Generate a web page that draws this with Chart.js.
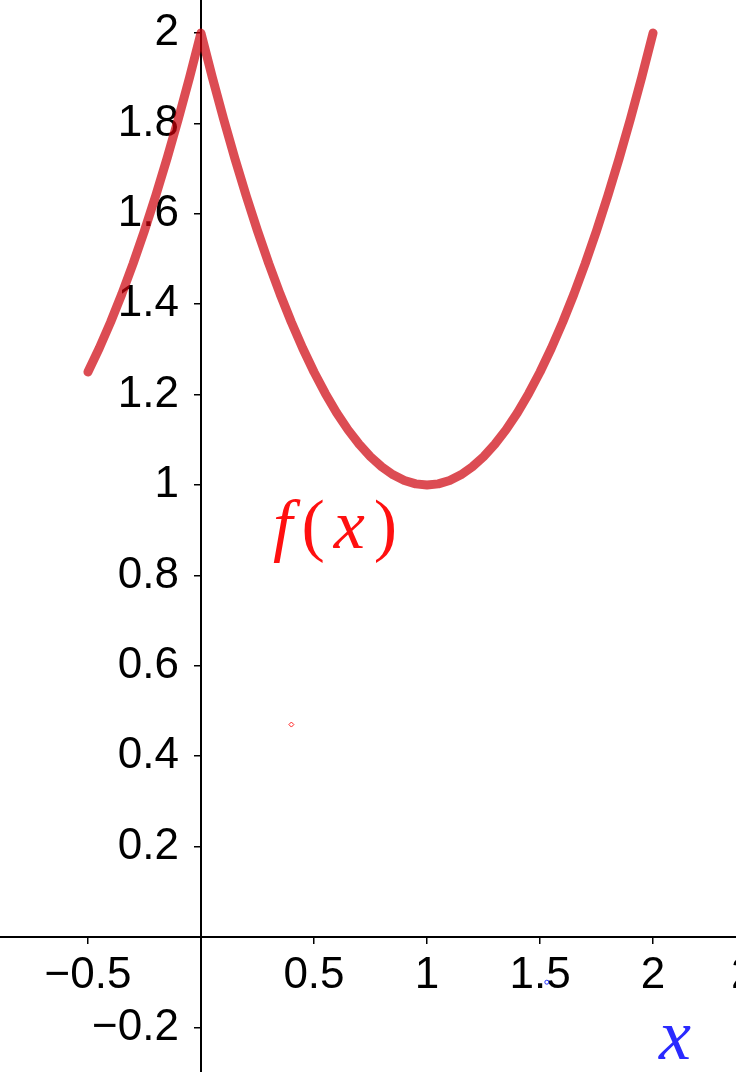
<!DOCTYPE html>
<html>
<head>
<meta charset="utf-8">
<script src="https://cdn.jsdelivr.net/npm/chart.js@4/dist/chart.umd.min.js"></script>
<style>
  html, body { margin: 0; padding: 0; overflow: hidden; background: #fff; width: 736px; height: 1072px; }
  #wrap { position: relative; width: 800px; height: 1072px; }
  #c { position: absolute; left: 0; top: 0; }
  .lbl { position: absolute; font-family: "Liberation Serif", "DejaVu Serif", serif; white-space: nowrap; line-height: 1; }
  .it { font-style: italic; }
</style>
</head>
<body>
<div id="wrap">
  <canvas id="c" width="800" height="1072"></canvas>
  <div class="lbl" id="fx" style="left:273px; top:490px; font-size:70px; color:#ff1010; letter-spacing:9px;"><span class="it">f</span>(<span class="it">x</span>)</div>
  <div class="lbl it" id="xl" style="left:659px; top:999px; font-size:72px; color:#2a2aff;">x</div>
</div>
<script>
// Curve f(x)
const curveX = [-0.5,-0.45,-0.4,-0.35,-0.3,-0.25,-0.2,-0.15,-0.1,-0.05,0,
  0.05,0.1,0.15,0.2,0.25,0.3,0.35,0.4,0.45,0.5,0.55,0.6,0.65,0.7,0.75,0.8,0.85,0.9,0.95,1,
  1.05,1.1,1.15,1.2,1.25,1.3,1.35,1.4,1.45,1.5,1.55,1.6,1.65,1.7,1.75,1.8,1.85,1.9,1.95,2];
const curveY = [1.25,1.3025,1.36,1.4225,1.49,1.5625,1.64,1.7225,1.81,1.9025,2.0,
  1.9025,1.81,1.7225,1.64,1.5625,1.49,1.4225,1.36,1.3025,1.25,1.2025,1.16,1.1225,1.09,1.0625,1.04,1.0225,1.01,1.0025,1.0,
  1.0025,1.01,1.0225,1.04,1.0625,1.09,1.1225,1.16,1.2025,1.25,1.3025,1.36,1.4225,1.49,1.5625,1.64,1.7225,1.81,1.9025,2.0];
// small stray markers
const redMarkX = [0.40];
const redMarkY = [0.47];
const blueMarkX = [1.53];
const blueMarkY = [-0.10];
// axis ranges / ticks
const xRange = [-0.889, 2.650];
const yRange = [-0.2987, 2.073];
const xStep = 0.5;
const yStep = 0.2;

function pts(xs, ys) { return xs.map((x, i) => ({x: x, y: ys[i]})); }
function fmt(v) {
  const r = Math.round(v * 10) / 10;
  if (r === 0) return '';
  const s = String(Math.abs(r));
  return (r < 0 ? '\u2212' : '') + s;
}
function fmtX(v) {
  const s = fmt(v);
  // the last label is cut by the right edge; keep it slightly wider like the reference
  return (Math.round(v * 10) === 25) ? s + '\u2009' : s;
}
function fmtY(v) {
  const s = fmt(v);
  return s ? s + '\u2002' : '';
}
function noPad(scale) {
  scale.paddingTop = 0; scale.paddingBottom = 0;
  scale.paddingLeft = 0; scale.paddingRight = 0;
}

const tickFont = { family: '"Liberation Sans", Arial, sans-serif', size: 44 };

new Chart(document.getElementById('c'), {
  type: 'scatter',
  data: {
    datasets: [
      {
        data: pts(curveX, curveY),
        showLine: true,
        borderColor: 'rgba(205,0,10,0.7)',
        borderWidth: 9,
        borderCapStyle: 'round',
        borderJoinStyle: 'round',
        pointRadius: 0,
        pointHoverRadius: 0,
        tension: 0
      },
      {
        data: pts(redMarkX, redMarkY),
        pointStyle: 'rectRot',
        pointRadius: 2.5,
        borderColor: '#ff2020',
        backgroundColor: 'rgba(255,255,255,0)',
        borderWidth: 1
      },
      {
        data: pts(blueMarkX, blueMarkY),
        pointStyle: 'circle',
        pointRadius: 2,
        borderColor: '#2030ff',
        backgroundColor: 'rgba(255,255,255,0)',
        borderWidth: 1
      }
    ]
  },
  options: {
    responsive: false,
    animation: false,
    events: [],
    layout: { padding: 0, autoPadding: false },
    plugins: { legend: { display: false }, tooltip: { enabled: false } },
    scales: {
      x: {
        type: 'linear',
        min: xRange[0], max: xRange[1],
        position: { y: 0 },
        afterFit: noPad,
        border: { display: true, color: '#000', width: 2 },
        grid: { drawOnChartArea: false, drawTicks: true, tickLength: 6, color: '#000', lineWidth: 1.5 },
        ticks: { stepSize: xStep, includeBounds: false, color: '#000', font: tickFont, padding: 6, maxRotation: 0, autoSkip: false, callback: fmtX }
      },
      y: {
        type: 'linear',
        min: yRange[0], max: yRange[1],
        position: { x: 0 },
        afterFit: noPad,
        border: { display: true, color: '#000', width: 2 },
        grid: { drawOnChartArea: false, drawTicks: true, tickLength: 6, color: '#000', lineWidth: 1.5 },
        ticks: { stepSize: yStep, includeBounds: false, color: '#000', font: tickFont, padding: 0, autoSkip: false, callback: fmtY }
      }
    }
  }
});
</script>
</body>
</html>
